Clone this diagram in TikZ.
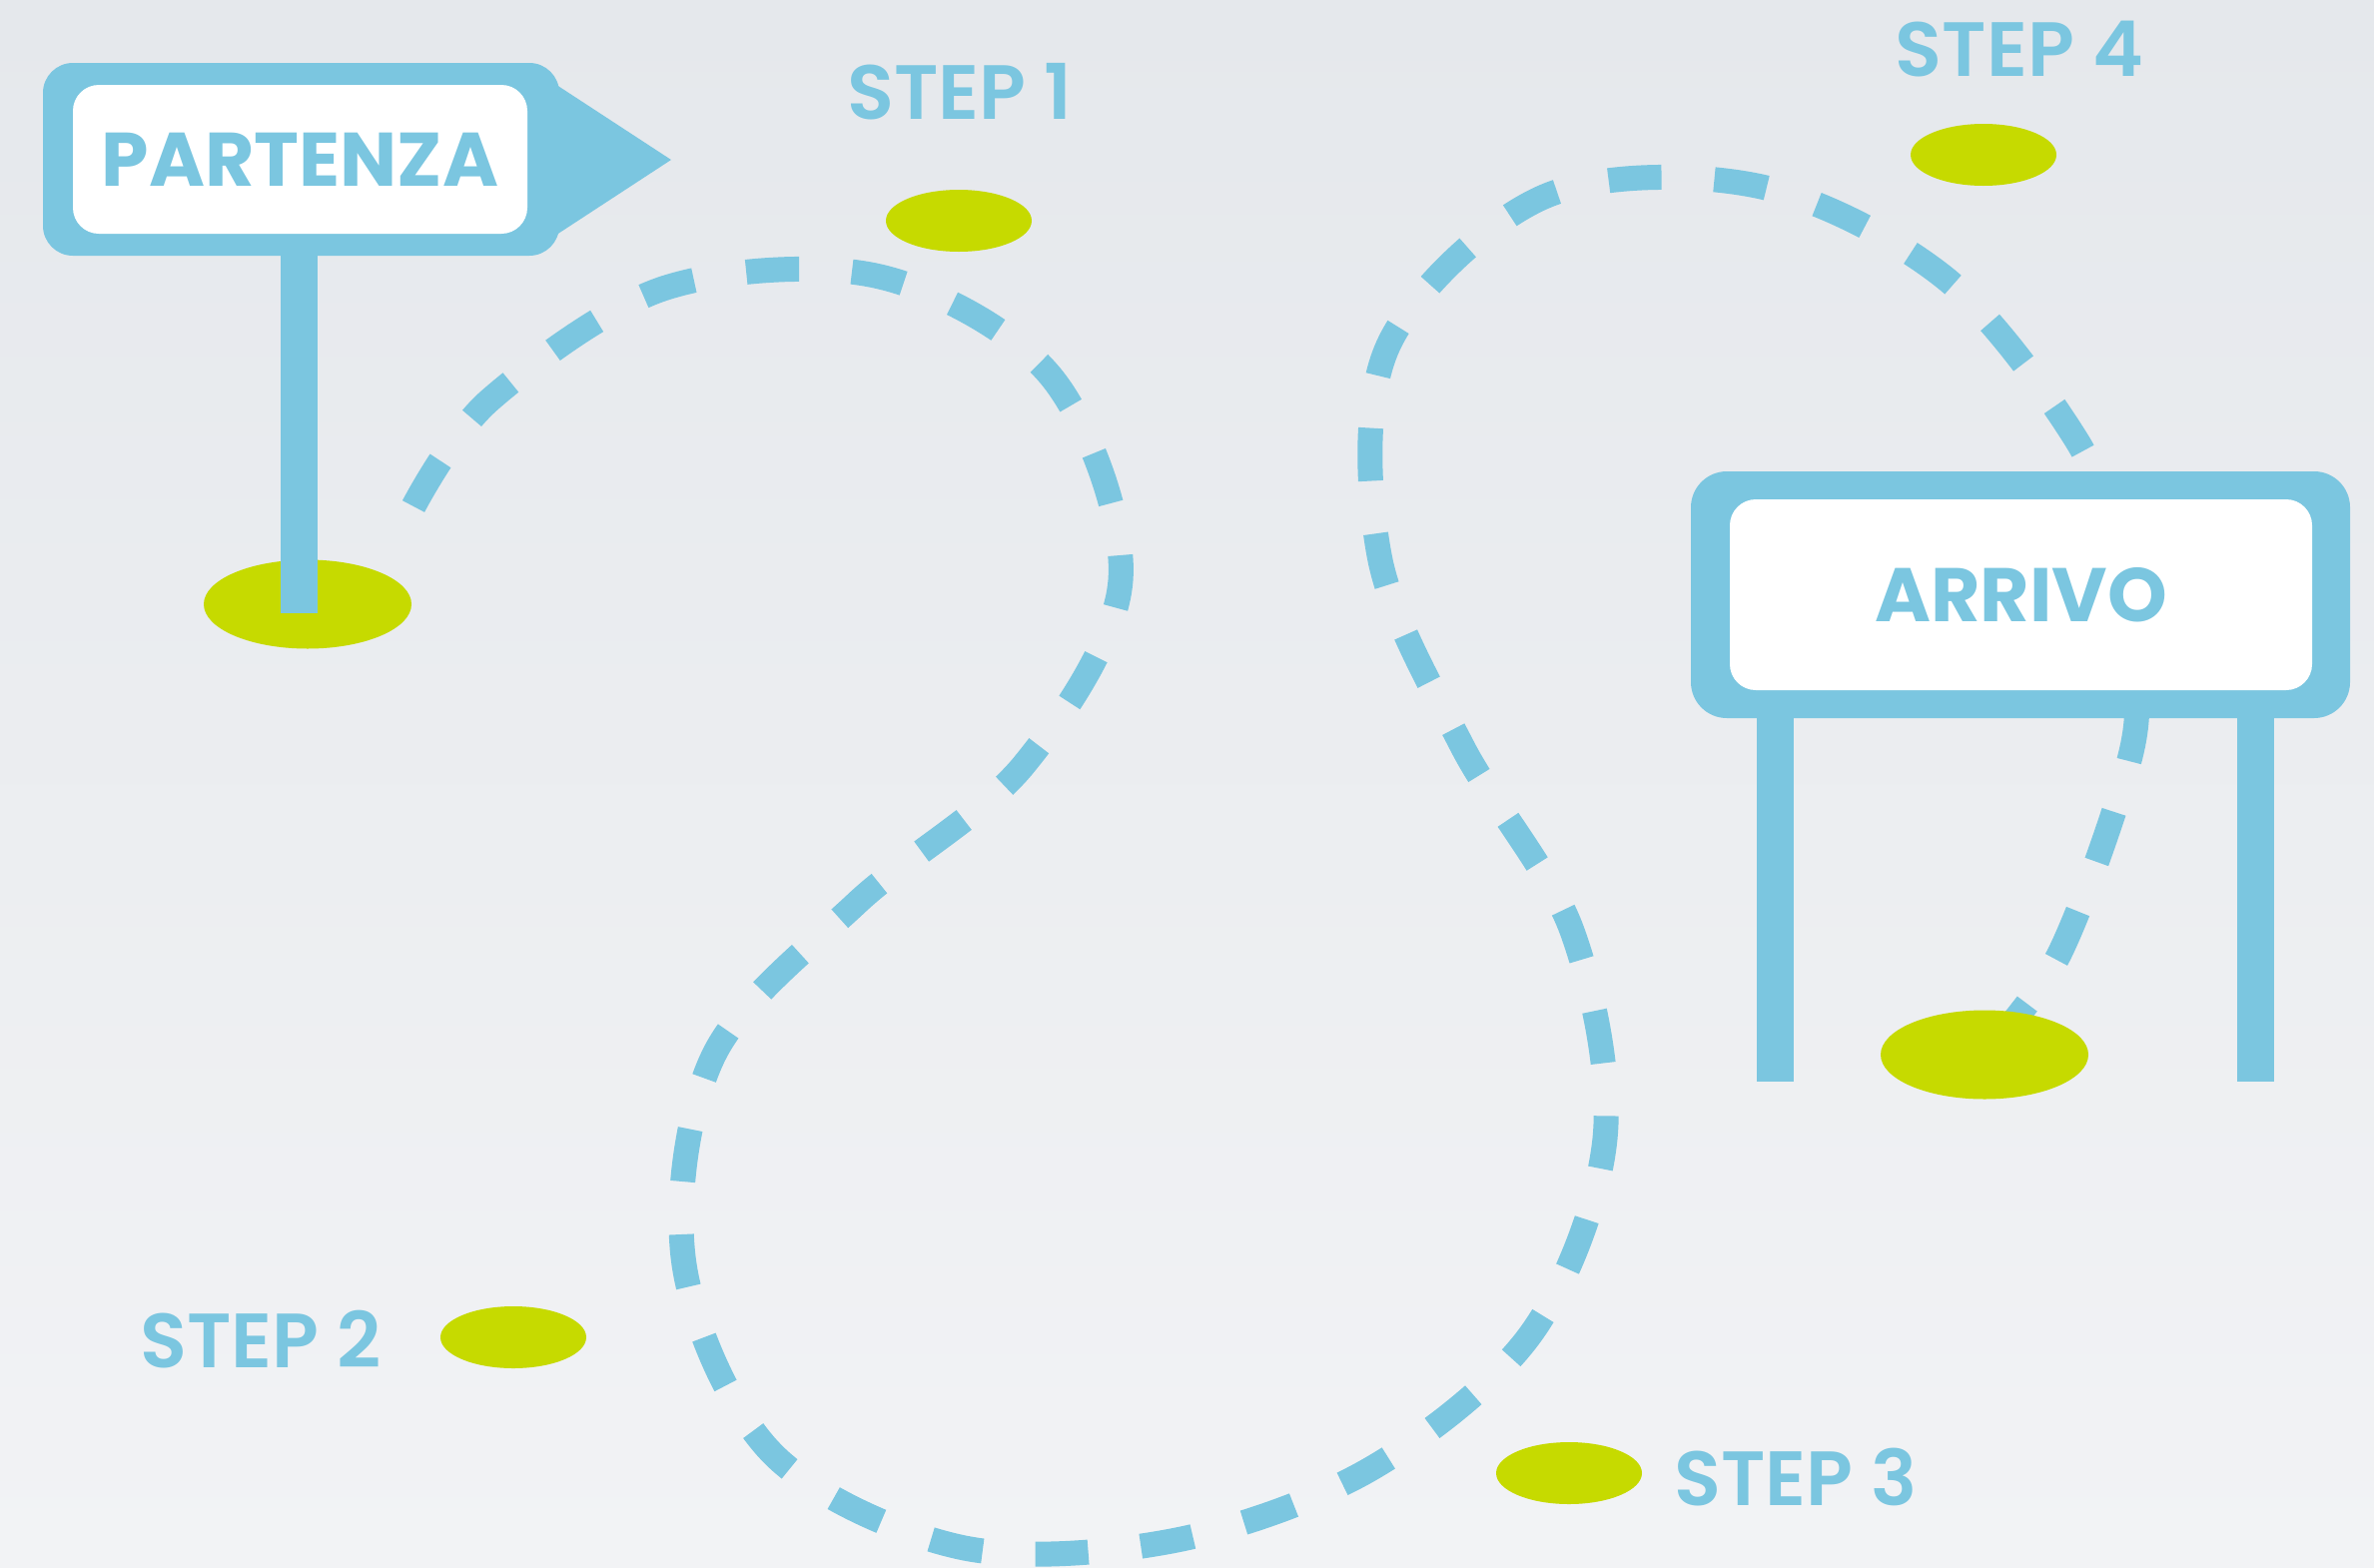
\documentclass[tikz,border=0pt]{standalone}
\usepackage{fontspec}
\setmainfont{Poppins}
\newfontfamily\lblfont{Poppins}[UprightFont={* SemiBold}]
\newfontfamily\signfont{Poppins}[UprightFont={* Bold}]
\usetikzlibrary{shapes.geometric}
\definecolor{sky}{HTML}{7BC6E0}
\definecolor{lime}{HTML}{C6DA00}
\definecolor{bgtop}{HTML}{E5E8EC}
\definecolor{bgbot}{HTML}{F2F3F5}
\tikzset{
  route/.style={draw=sky, line width=25pt, dash pattern=on 53pt off 53pt},
  spot/.style={ellipse, fill=lime, inner sep=0pt, minimum width=146pt, minimum height=62pt},
  bigspot/.style={ellipse, fill=lime, inner sep=0pt, minimum width=208pt, minimum height=89pt},
  board/.style={fill=white, rounded corners=26pt, inner sep=0pt, text=sky, font=\signfont\fontsize{76}{76}\selectfont},
  steplabel/.style={text=sky, inner sep=0pt, font=\lblfont\fontsize{77}{77}\selectfont},
}
\begin{document}
\begin{tikzpicture}[x=1pt, y=-1pt]
\useasboundingbox (0,0) rectangle (2377,1569);
\shade[top color=bgtop, bottom color=bgbot] (0,0) rectangle (2377,1569);

% route
\coordinate (start) at (414,507);
\coordinate (finish) at (1987,1056);
\draw[route] plot[smooth, tension=0.55] coordinates {
 (start) (491,400) (667,288) (881,277) (1054,379) (1122,581) (1025,766)
 (858,904) (714,1058) (685,1266) (773,1455) (961,1549) (1173,1543)
 (1372,1471) (1534,1334) (1607,1140) (1574,932) (1464,747) (1381,556)
 (1390,346) (1546,197) (1759,186) (1947,278) (2080,442) (2112,545)
 (2134,650) (2134,753) (2063,953) (finish)};

% spots
\node[spot] (s1) at (960,221) {};
\node[spot] (s2) at (514,1339) {};
\node[spot] (s3) at (1571,1475) {};
\node[spot] (s4) at (1986,155) {};
\node[bigspot] (startspot) at (308,605) {};
\node[bigspot] (endspot) at (1987,1056) {};

% PARTENZA sign
\fill[sky, rounded corners=30pt] (43,63) rectangle (560,256);
\fill[sky] (545,77) -- (672,160) -- (545,243) -- cycle;
\fill[sky] (281,250) rectangle (318,614);
\node[board, minimum width=455pt, minimum height=149pt] (partenza) at (300.5,159.5) {PARTENZA};

% ARRIVO sign
\fill[sky, rounded corners=36pt] (1693,472) rectangle (2353,719);
\fill[sky] (1759,700) rectangle (1796,1083);
\fill[sky] (2240,700) rectangle (2277,1083);
\node[board, minimum width=583pt, minimum height=191pt] (arrivo) at (2023.5,595.5) {ARRIVO};

% labels
\node[steplabel] (l1) at (961,92) {STEP 1};
\node[steplabel] (l2) at (261,1341) {STEP 2};
\node[steplabel] (l3) at (1798,1479) {STEP 3};
\node[steplabel] (l4) at (2022,49) {STEP 4};
\end{tikzpicture}
\end{document}
